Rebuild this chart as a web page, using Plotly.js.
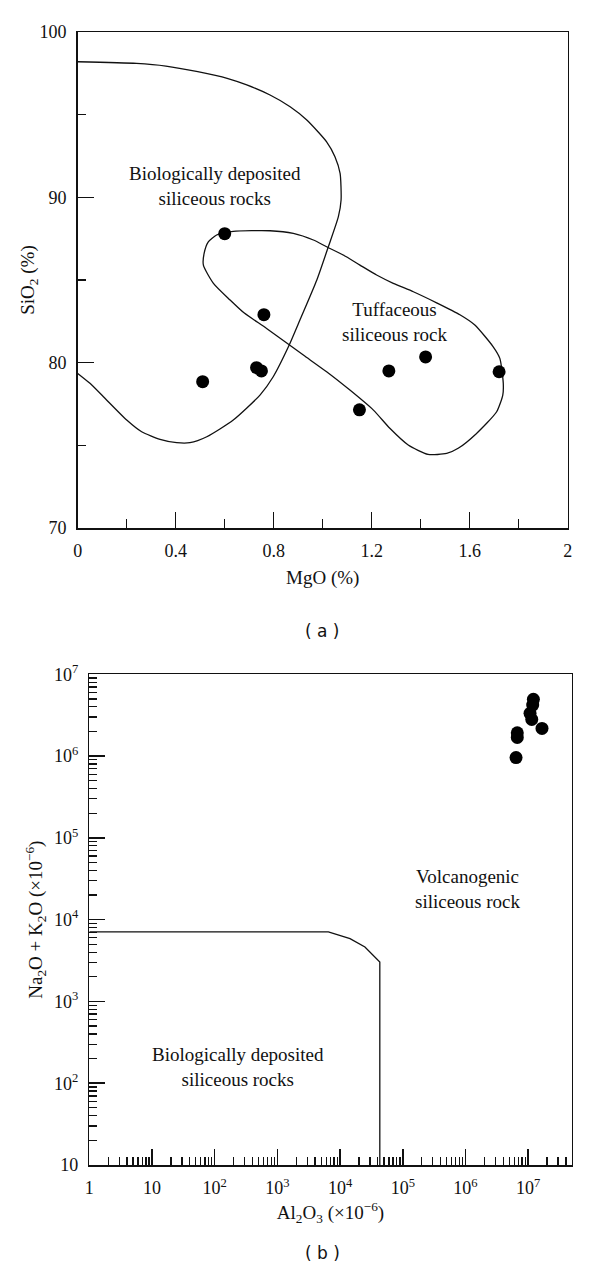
<!DOCTYPE html>
<html>
<head>
<meta charset="utf-8">
<script src="https://cdn.plot.ly/plotly-3.0.1.min.js"></script>
<style>html,body{margin:0;padding:0;background:#fff;}#chart{width:600px;height:1281px;}</style>
</head>
<body>
<div id="chart"></div>
<script>
// ---- Panel (a): MgO vs SiO2 ----
const mgo = [0.60, 0.76, 0.51, 0.73, 0.75, 1.15, 1.27, 1.42, 1.72];
const sio2 = [87.8, 82.9, 78.85, 79.7, 79.5, 77.15, 79.5, 80.35, 79.45];

const bioA_x = [0, 0.24, 0.36, 0.49, 0.61, 0.69, 0.785, 0.867, 0.935, 1.016, 1.05, 1.071, 1.075, 1.064, 1.023, 0.976, 0.907, 0.86, 0.798, 0.744, 0.635, 0.527, 0.458, 0.404, 0.336, 0.261, 0.200, 0.105, 0.05, 0];
const bioA_y = [98.2, 98.1, 97.94, 97.6, 97.2, 96.8, 96.19, 95.48, 94.68, 93.36, 92.46, 91.45, 89.84, 88.83, 87.01, 85.0, 82.58, 80.96, 79.15, 78.04, 76.53, 75.52, 75.16, 75.16, 75.36, 75.82, 76.53, 77.94, 78.75, 79.35];

const tuff_x = [0.635, 0.785, 0.880, 0.962, 1.016, 1.084, 1.152, 1.220, 1.288, 1.370, 1.465, 1.56, 1.621, 1.696, 1.723, 1.737, 1.735, 1.710, 1.628, 1.553, 1.506, 1.430, 1.349, 1.274, 1.207, 1.111, 1.016, 0.921, 0.771, 0.68, 0.622, 0.554, 0.513, 0.516, 0.533, 0.567, 0.635];
const tuff_y = [87.94, 87.98, 87.82, 87.42, 87.01, 86.51, 85.9, 85.3, 84.8, 84.29, 83.62, 82.9, 82.28, 80.96, 80.26, 78.75, 78.04, 77.03, 75.72, 74.82, 74.51, 74.45, 75.02, 76.03, 77.13, 78.34, 79.45, 80.46, 82.07, 83.0, 83.79, 84.8, 85.9, 86.61, 87.31, 87.72, 87.94];

const xTicksA = [0, 0.4, 0.8, 1.2, 1.6, 2];
const xTickTextA = ['0', '0.4', '0.8', '1.2', '1.6', '2'];
const xMinorA = [0.2, 0.6, 1.0, 1.4, 1.8];
const yTicksA = [70, 80, 90, 100];
const yTickTextA = ['70', '80', '90', '100'];
const yMinorA = [75, 85, 95];

// ---- Panel (b): Al2O3 vs Na2O+K2O ----
const al2o3 = [1.21e7, 1.18e7, 1.07e7, 1.14e7, 1.66e7, 6.7e6, 6.7e6, 6.4e6];
const alkali = [4.94e6, 4.21e6, 3.33e6, 2.81e6, 2.18e6, 1.93e6, 1.69e6, 9.6e5];

const bnd_x = [1, 6.5e3, 1.44e4, 2.49e4, 4.3e4, 4.3e4];
const bnd_y = [7080, 7080, 5870, 4630, 3030, 10];

const xTicksB = [1, 10, 1e2, 1e3, 1e4, 1e5, 1e6, 1e7];
const xTickTextB = ['1', '10', '10<sup>2</sup>', '10<sup>3</sup>', '10<sup>4</sup>', '10<sup>5</sup>', '10<sup>6</sup>', '10<sup>7</sup>'];
const yTicksB = [10, 1e2, 1e3, 1e4, 1e5, 1e6, 1e7];
const yTickTextB = ['10', '10<sup>2</sup>', '10<sup>3</sup>', '10<sup>4</sup>', '10<sup>5</sup>', '10<sup>6</sup>', '10<sup>7</sup>'];

const INK = '#111';
const FONT = 'Liberation Serif, Times New Roman, serif';

const lineStyle = {color: INK, width: 1.3};
const traces = [
  {x: bioA_x, y: bioA_y, type: 'scatter', mode: 'lines', line: Object.assign({shape: 'spline', smoothing: 0.6}, lineStyle), xaxis: 'x', yaxis: 'y', hoverinfo: 'skip'},
  {x: tuff_x, y: tuff_y, type: 'scatter', mode: 'lines', line: Object.assign({shape: 'spline', smoothing: 0.6}, lineStyle), xaxis: 'x', yaxis: 'y', hoverinfo: 'skip'},
  {x: mgo, y: sio2, type: 'scatter', mode: 'markers', marker: {color: '#000', size: 13}, xaxis: 'x', yaxis: 'y'},
  {x: bnd_x, y: bnd_y, type: 'scatter', mode: 'lines', line: lineStyle, xaxis: 'x2', yaxis: 'y2', hoverinfo: 'skip'},
  {x: al2o3, y: alkali, type: 'scatter', mode: 'markers', marker: {color: '#000', size: 13}, xaxis: 'x2', yaxis: 'y2'}
];

function axisBase() {
  return {
    showline: true, linecolor: INK, linewidth: 1.5, mirror: true,
    showgrid: false, zeroline: false,
    ticks: 'inside', ticklen: 16, tickwidth: 1.5, tickcolor: INK,
    tickfont: {family: FONT, size: 18, color: INK},
    ticklabelstandoff: 6,
    automargin: false
  };
}

const layout = {
  width: 600, height: 1281,
  margin: {l: 0, r: 0, t: 0, b: 0},
  paper_bgcolor: '#fff', plot_bgcolor: '#fff',
  showlegend: false,
  font: {family: FONT, size: 18, color: INK},
  xaxis: Object.assign(axisBase(), {
    domain: [77.7 / 600, 567.7 / 600], anchor: 'y', range: [0, 2],
    tickmode: 'array', tickvals: xTicksA, ticktext: xTickTextA,
    minor: {tickmode: 'array', tickvals: xMinorA, ticks: 'inside', ticklen: 9, tickwidth: 1.5, tickcolor: INK, showgrid: false},
    title: {text: 'MgO (%)', font: {family: FONT, size: 19, color: INK}, standoff: 10}
  }),
  yaxis: Object.assign(axisBase(), {
    domain: [1 - 528 / 1281, 1 - 32 / 1281], anchor: 'x', range: [70, 100],
    tickmode: 'array', tickvals: yTicksA, ticktext: yTickTextA,
    minor: {tickmode: 'array', tickvals: yMinorA, ticks: 'inside', ticklen: 8, tickwidth: 1.5, tickcolor: INK, showgrid: false},
    title: {text: 'SiO<sub>2</sub> (%)', font: {family: FONT, size: 19, color: INK}, standoff: 0}
  }),
  xaxis2: Object.assign(axisBase(), {
    type: 'log', domain: [89.3 / 600, 571.7 / 600], anchor: 'y2', range: [0, 7.694],
    tickmode: 'array', tickvals: xTicksB, ticktext: xTickTextB,
    minor: {dtick: 'D1', ticks: 'inside', ticklen: 8, tickwidth: 1.3, tickcolor: INK, showgrid: false},
    title: {text: 'Al<sub>2</sub>O<sub>3</sub> (×10<sup>−6</sup>)', font: {family: FONT, size: 19, color: INK}, standoff: 8}
  }),
  yaxis2: Object.assign(axisBase(), {
    type: 'log', domain: [1 - 1165 / 1281, 1 - 674.3 / 1281], anchor: 'x2', range: [1, 7],
    tickmode: 'array', tickvals: yTicksB, ticktext: yTickTextB,
    minor: {dtick: 'D1', ticks: 'inside', ticklen: 8, tickwidth: 1.3, tickcolor: INK, showgrid: false},
    title: {text: 'Na<sub>2</sub>O + K<sub>2</sub>O (×10<sup>−6</sup>)', font: {family: FONT, size: 19, color: INK}, standoff: 6}
  }),
  annotations: [
    {xref: 'x', yref: 'y', x: 0.56, y: 90.68, text: 'Biologically deposited<br>siliceous rocks', showarrow: false, font: {family: FONT, size: 19, color: INK}},
    {xref: 'x', yref: 'y', x: 1.297, y: 82.47, text: 'Tuffaceous<br>siliceous rock', showarrow: false, font: {family: FONT, size: 19, color: INK}},
    {xref: 'x2', yref: 'y2', x: 6.04, y: 4.372, text: 'Volcanogenic<br>siliceous rock', showarrow: false, font: {family: FONT, size: 19, color: INK}},
    {xref: 'x2', yref: 'y2', x: 2.372, y: 2.2, text: 'Biologically deposited<br>siliceous rocks', showarrow: false, font: {family: FONT, size: 19, color: INK}},
    {xref: 'paper', yref: 'paper', x: 322 / 600, y: 1 - 631 / 1281, text: '( a )', showarrow: false, font: {family: 'DejaVu Sans, Verdana, sans-serif', size: 17, color: '#111'}},
    {xref: 'paper', yref: 'paper', x: 322 / 600, y: 1 - 1265 / 1281, text: '( b )', showarrow: false, font: {family: 'DejaVu Sans, Verdana, sans-serif', size: 17, color: '#111'}}
  ]
};

Plotly.newPlot('chart', traces, layout, {staticPlot: true, displayModeBar: false});
</script>
</body>
</html>
